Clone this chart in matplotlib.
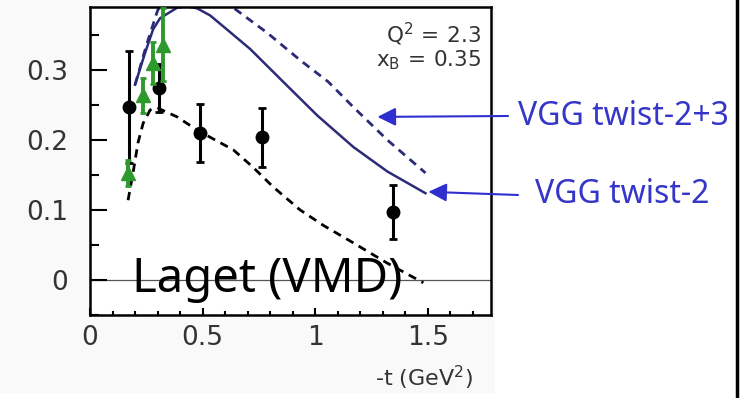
import numpy as np
import matplotlib
matplotlib.use("Agg")
import matplotlib.pyplot as plt
from matplotlib.ticker import MultipleLocator
from matplotlib.patches import Rectangle
from matplotlib.lines import Line2D

# data
black_t = [0.173, 0.307, 0.489, 0.764, 1.347]
black_y = [0.247, 0.274, 0.210, 0.204, 0.097]
black_err = [0.080, 0.034, 0.041, 0.042, 0.038]

green_t = [0.170, 0.235, 0.280, 0.325]
green_y = [0.153, 0.264, 0.310, 0.336]
green_err = [0.019, 0.025, 0.030, 0.052]

# Laget (VMD) curve
laget_t = [0.169, 0.191, 0.213, 0.236, 0.267, 0.298, 0.387, 0.476, 0.533, 0.636,
           0.724, 0.813, 0.933, 1.036, 1.169, 1.320, 1.480]
laget_y = [0.114, 0.153, 0.196, 0.224, 0.243, 0.246, 0.233, 0.214, 0.204, 0.186,
           0.161, 0.133, 0.100, 0.078, 0.053, 0.024, -0.004]

# VGG twist-2
tw2_t = [0.200, 0.244, 0.280, 0.311, 0.387, 0.430, 0.476, 0.533, 0.600, 0.711,
         0.858, 1.009, 1.169, 1.320, 1.489]
tw2_y = [0.279, 0.324, 0.358, 0.374, 0.389, 0.391, 0.388, 0.378, 0.360, 0.330,
         0.283, 0.235, 0.190, 0.155, 0.124]

# VGG twist-2+3
tw3_t = [0.200, 0.250, 0.300, 0.350, 0.450, 0.550, 0.636, 0.787, 0.933, 1.058,
         1.169, 1.320, 1.489]
tw3_y = [0.279, 0.335, 0.385, 0.410, 0.430, 0.415, 0.389, 0.353, 0.314, 0.283,
         0.247, 0.200, 0.153]

navy = "#2b2b78"
green = "#2e9a2e"
label_blue = "#3535c8"

plt.rcParams["font.family"] = "DejaVu Sans"

fig = plt.figure(figsize=(7.42, 3.98), dpi=100)
fig.patch.set_facecolor("white")
# slightly grey backdrop of the pasted plot
fig.add_artist(Rectangle((0, 5 / 398), 495 / 742, 1 - 5 / 398, transform=fig.transFigure,
                         facecolor="#f9f9f9", edgecolor="none", zorder=-10))
# thick border line on the right
fig.add_artist(Line2D([737 / 742, 737 / 742], [0, 1], transform=fig.transFigure,
                      color="black", lw=2.5))

ax = fig.add_axes([90 / 742, 1 - 315 / 398, 401 / 742, 308 / 398])
ax.set_facecolor("white")

ax.axhline(0, color="#555555", lw=0.9, zorder=1)

ax.plot(laget_t, laget_y, color="black", ls=(0, (3, 2.2)), lw=2, zorder=2)
ax.plot(tw2_t, tw2_y, color=navy, lw=1.8, zorder=2)
ax.plot(tw3_t, tw3_y, color=navy, ls=(0, (3, 2.2)), lw=2, zorder=2)

ax.errorbar(black_t, black_y, yerr=black_err, fmt="o", color="black", ms=9,
            elinewidth=2.2, capsize=3, capthick=2, zorder=4)
ax.errorbar(green_t, green_y, yerr=green_err, fmt="^", color=green, ms=10.5,
            elinewidth=2.8, capsize=2.5, capthick=2, zorder=5)

ax.set_xlim(0, 1.78)
ax.set_ylim(-0.05, 0.39)

ax.xaxis.set_major_locator(MultipleLocator(0.5))
ax.xaxis.set_minor_locator(MultipleLocator(0.1))
ax.yaxis.set_major_locator(MultipleLocator(0.1))
ax.yaxis.set_minor_locator(MultipleLocator(0.05))
ax.set_xticks([0, 0.5, 1, 1.5], ["0", "0.5", "1", "1.5"])
ax.set_yticks([0, 0.1, 0.2, 0.3], ["0", "0.1", "0.2", "0.3"])

ax.tick_params(axis="y", which="major", direction="in", length=12, width=1.5,
               labelsize=19, pad=16, labelcolor="#333333")
ax.tick_params(axis="y", which="minor", direction="in", length=6.5, width=1.5)
ax.tick_params(axis="x", which="major", direction="in", length=5, width=1.5,
               labelsize=19, pad=7, labelcolor="#333333")
ax.tick_params(axis="x", which="minor", direction="in", length=3, width=1.5)
for s in ax.spines.values():
    s.set_linewidth(1.8)

ax.text(0.975, 0.955, r"$\mathregular{Q^2\,=\,2.3}$", transform=ax.transAxes,
        ha="right", va="top", fontsize=15.5, color="#333333")
ax.text(0.975, 0.865, r"$\mathregular{x_B\,=\,0.35}$", transform=ax.transAxes,
        ha="right", va="top", fontsize=15.5, color="#333333")
ax.text(0.955, -0.16, r"-t (GeV$^2$)", transform=ax.transAxes,
        ha="right", va="top", fontsize=16, color="#333333")

ax.text(0.187, -0.017, "Laget (VMD)", fontsize=34, family="Noto Sans",
        ha="left", va="baseline", color="black", zorder=6)

ax.annotate("", xy=(1.276, 0.233), xycoords="data",
            xytext=(508, 398 - 116), textcoords="figure pixels",
            arrowprops=dict(arrowstyle="-|>,head_length=0.5,head_width=0.25",
                            mutation_scale=22, color="#2f2fd0", lw=1.5,
                            shrinkA=0, shrinkB=0),
            annotation_clip=False)
ax.annotate("", xy=(1.502, 0.126), xycoords="data",
            xytext=(518, 398 - 195), textcoords="figure pixels",
            arrowprops=dict(arrowstyle="-|>,head_length=0.5,head_width=0.25",
                            mutation_scale=22, color="#2f2fd0", lw=1.5,
                            shrinkA=0, shrinkB=0),
            annotation_clip=False)

fig.text(518 / 742, 1 - 125 / 398, "VGG twist-2+3", family="Noto Sans",
         fontsize=23, color=label_blue, ha="left", va="baseline")
fig.text(535 / 742, 1 - 203 / 398, "VGG twist-2", family="Noto Sans",
         fontsize=23, color=label_blue, ha="left", va="baseline")

fig.savefig("out.png", dpi=100)
